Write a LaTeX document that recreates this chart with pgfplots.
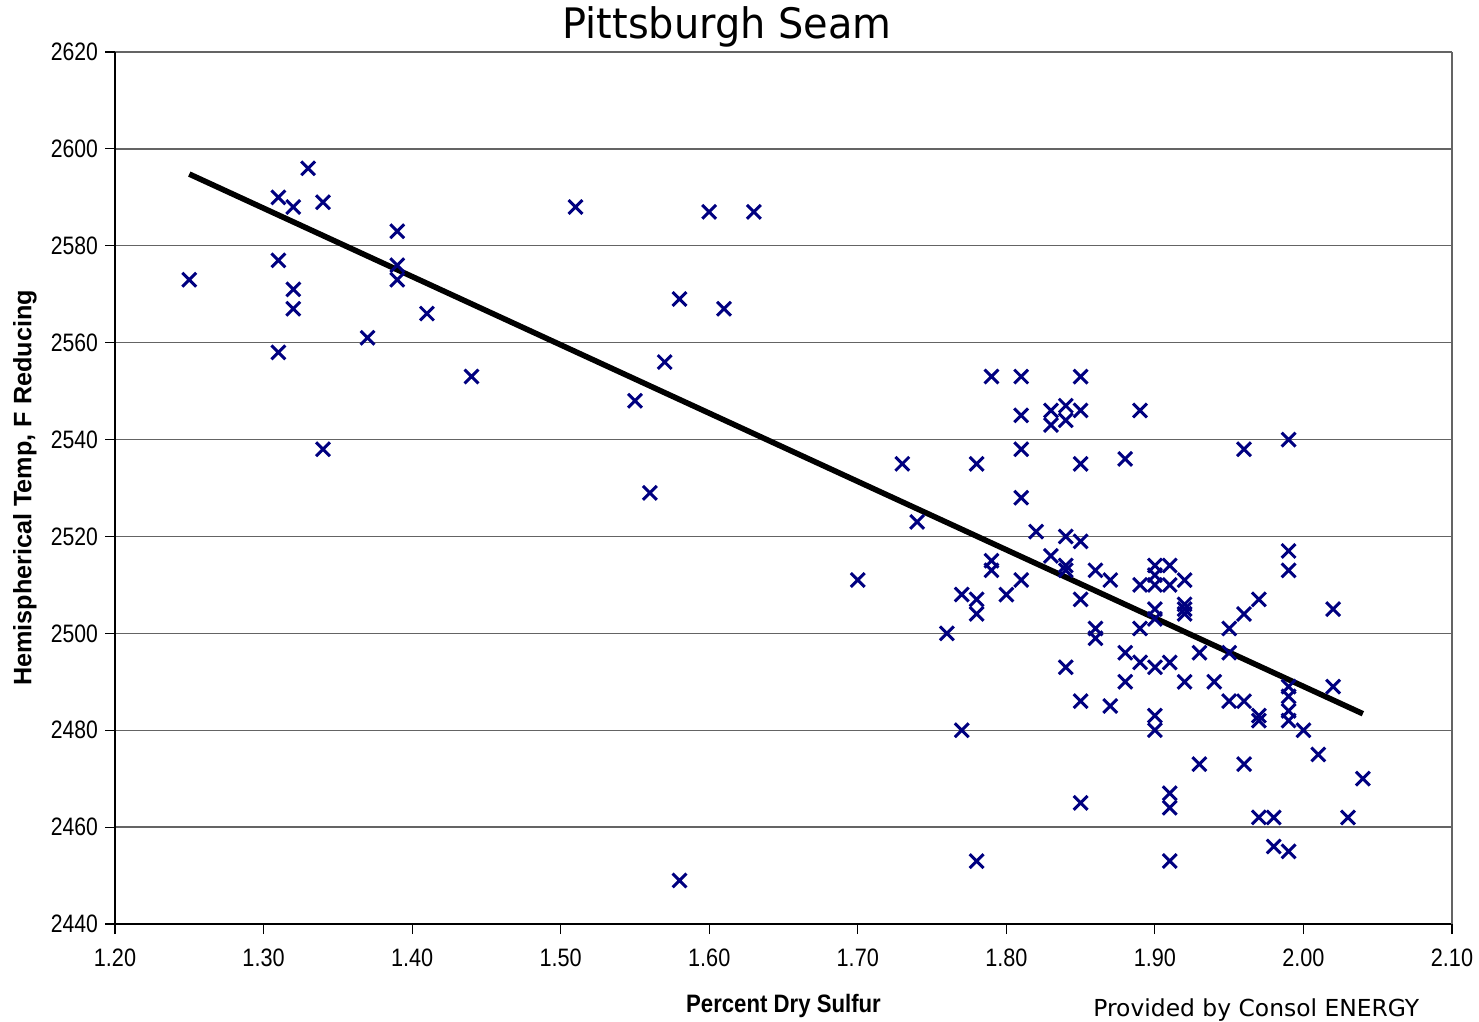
\documentclass[border=0pt]{standalone}
\usepackage{pgfplots}
\pgfplotsset{compat=1.18}
\usepackage{pgfplotstable}
\usepackage{fontspec}
\setmainfont{Liberation Sans}
\newfontfamily\dejavu{DejaVu Sans}
\definecolor{ptblue}{RGB}{0,0,128}
\definecolor{gridgray}{RGB}{100,100,100}

\pgfplotstableread{
x y
1.25 2573
1.31 2590
1.31 2577
1.31 2558
1.32 2588
1.32 2571
1.32 2567
1.33 2596
1.34 2589
1.34 2538
1.37 2561
1.39 2583
1.39 2576
1.39 2573
1.41 2566
1.44 2553
1.51 2588
1.55 2548
1.56 2529
1.57 2556
1.58 2569
1.58 2449
1.60 2587
1.61 2567
1.63 2587
1.70 2511
1.73 2535
1.74 2523
1.76 2500
1.77 2508
1.77 2480
1.78 2535
1.78 2507
1.78 2504
1.78 2453
1.79 2553
1.79 2515
1.79 2513
1.80 2508
1.81 2553
1.81 2545
1.81 2538
1.81 2528
1.81 2511
1.82 2521
1.83 2546
1.83 2543
1.83 2516
1.84 2547
1.84 2544
1.84 2520
1.84 2514
1.84 2513
1.84 2493
1.85 2553
1.85 2546
1.85 2535
1.85 2519
1.85 2507
1.85 2486
1.85 2465
1.86 2513
1.86 2501
1.86 2499
1.87 2511
1.87 2485
1.88 2536
1.88 2496
1.88 2490
1.89 2546
1.89 2510
1.89 2501
1.89 2494
1.90 2514
1.90 2512
1.90 2510
1.90 2505
1.90 2503
1.90 2493
1.90 2483
1.90 2480
1.91 2514
1.91 2510
1.91 2494
1.91 2467
1.91 2464
1.91 2453
1.92 2511
1.92 2506
1.92 2505
1.92 2504
1.92 2490
1.93 2496
1.93 2473
1.94 2490
1.95 2501
1.95 2496
1.95 2486
1.96 2538
1.96 2504
1.96 2486
1.96 2473
1.97 2507
1.97 2483
1.97 2482
1.97 2462
1.98 2462
1.98 2456
1.99 2540
1.99 2517
1.99 2513
1.99 2489
1.99 2487
1.99 2484
1.99 2482
1.99 2455
2.00 2480
2.01 2475
2.02 2505
2.02 2489
2.03 2462
2.04 2470
}\pitts

\pgfplotstableread{
x y
1.25 2594.8
2.04 2483.4
}\trend

\begin{document}
\begin{tikzpicture}
\begin{axis}[
  scale only axis,
  width=668.5pt, height=436pt,
  xmin=1.2, xmax=2.1, ymin=2440, ymax=2620,
  xtick={1.2,1.3,1.4,1.5,1.6,1.7,1.8,1.9,2.0,2.1},
  ytick={2440,2460,2480,2500,2520,2540,2560,2580,2600,2620},
  axis lines=left,
  axis line style={-, black, line width=0.8pt},
  ymajorgrids,
  grid style={gridgray, line width=0.7pt},
  tick align=outside,
  major tick length=5pt,
  tick style={black, line width=0.6pt},
  /pgf/number format/assume math mode=true,
  ticklabel style={font=\fontsize{12.6}{15}\selectfont},
  xticklabel={\scalebox{0.86}[1]{\pgfmathprintnumber[fixed,fixed zerofill,precision=2]{\tick}}},
  yticklabel={\scalebox{0.84}[1]{\pgfmathprintnumber[fixed,precision=0,1000 sep={}]{\tick}}},
  xticklabel style={yshift=-4pt},
  clip=false,
]
\draw[gridgray, line width=0.7pt] (rel axis cs:1,0) -- (rel axis cs:1,1);
\addplot[only marks, mark=x, mark size=4.9pt, ptblue, mark options={line width=1.5pt}] table[x=x,y=y] {\pitts};
\addplot[black, line width=2.8pt, no marks] table[x=x,y=y] {\trend};
\end{axis}
\node[font=\dejavu\fontsize{21}{25}\selectfont] at ([shift={(306pt,12.5pt)}]current axis.north west) {\scalebox{0.95}[1]{Pittsburgh Seam}};
\node[rotate=90, font=\bfseries\fontsize{12.6}{15}\selectfont] at ([xshift=-45pt]current axis.west) {Hemispherical Temp, F Reducing};
\node[font=\bfseries\fontsize{12.6}{15}\selectfont] at ([yshift=-41pt]current axis.south) {\scalebox{0.88}[1]{Percent Dry Sulfur}};
\node[anchor=north west, inner sep=0pt, font=\dejavu\fontsize{11.7}{14}\selectfont] at ([shift={(489pt,-37pt)}]current axis.south west) {Provided by Consol ENERGY};
\pgfresetboundingbox
\useasboundingbox ([shift={(-57.5pt,-48.5pt)}]current axis.south west) rectangle ([shift={(13.5pt,26pt)}]current axis.north east);
\end{tikzpicture}
\end{document}
